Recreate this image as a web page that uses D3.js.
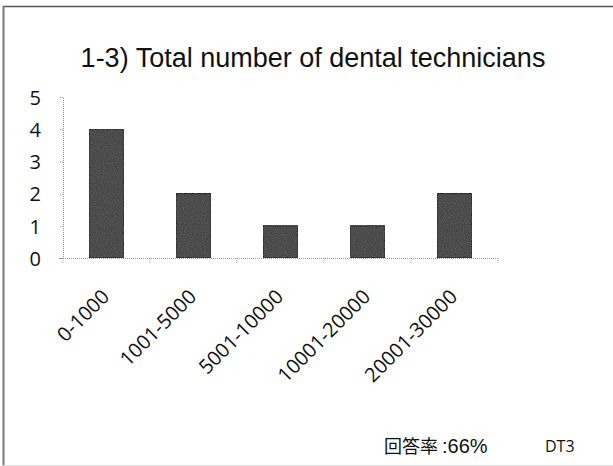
<!DOCTYPE html>
<html>
<head>
<meta charset="utf-8">
<script src="https://cdn.jsdelivr.net/npm/d3@7/dist/d3.min.js"></script>
<style>
  html, body { margin: 0; padding: 0; background: #fff; }
  svg { display: block; }
</style>
</head>
<body>
<svg id="chart" width="613" height="466"></svg>
<script>
// Survey answers: total number of dental technicians per lab
const categories = ["0-1000", "1001-5000", "5001-10000", "10001-20000", "20001-30000"];
const counts = [4, 2, 1, 1, 2];
const yTicks = [0, 1, 2, 3, 4, 5];

const svg = d3.select("#chart");
const W = 613, H = 466;

// texture filter giving the bars a speckled print look
const defs = svg.append("defs");
const f = defs.append("filter").attr("id", "grain").attr("x", 0).attr("y", 0).attr("width", 1).attr("height", 1);
f.append("feTurbulence").attr("type", "fractalNoise").attr("baseFrequency", 0.9).attr("numOctaves", 1).attr("seed", 3).attr("result", "n");
f.append("feColorMatrix").attr("in", "n").attr("type", "matrix")
  .attr("values", "0 0 0 0 0.12  0 0 0 0 0.12  0 0 0 0 0.12  0 0 0 -1.6 1.05").attr("result", "dots");
f.append("feComposite").attr("in", "dots").attr("in2", "SourceGraphic").attr("operator", "in").attr("result", "d2");
f.append("feMerge").selectAll("feMergeNode").data(["SourceGraphic", "d2"]).join("feMergeNode").attr("in", d => d);

// frame
svg.append("line").attr("x1", 3).attr("x2", W).attr("y1", 6.5).attr("y2", 6.5)
  .attr("stroke", "#555").attr("stroke-width", 1.5);
svg.append("line").attr("x1", 3.5).attr("x2", 3.5).attr("y1", 6).attr("y2", H)
  .attr("stroke", "#777").attr("stroke-width", 2);
svg.append("line").attr("x1", 3).attr("x2", W).attr("y1", 465.5).attr("y2", 465.5)
  .attr("stroke", "#ddd").attr("stroke-width", 1);

// title
svg.append("text").attr("x", 313).attr("y", 67).attr("text-anchor", "middle")
  .attr("font-family", "'Liberation Sans', Arial, sans-serif").attr("font-size", 27).attr("fill", "#111")
  .text("1-3) Total number of dental technicians");

const x = d3.scaleBand().domain(categories).range([63, 498]).paddingInner(0.6).paddingOuter(0.3);
const y = d3.scaleLinear().domain([0, 5]).range([258, 97]);

const g = svg.append("g");

// bars
g.selectAll("rect.bar").data(categories).join("rect")
  .attr("class", "bar")
  .attr("x", d => x(d))
  .attr("width", x.bandwidth())
  .attr("y", (d, i) => y(counts[i]))
  .attr("height", (d, i) => y(0) - y(counts[i]))
  .attr("fill", "#444")
  .attr("stroke", "#151515")
  .attr("stroke-width", 1.2)
  .attr("filter", "url(#grain)");

// y axis
const yAxis = d3.axisLeft(y).tickValues(yTicks).tickFormat(d3.format("d")).tickSize(4).tickPadding(18);
const yg = svg.append("g").attr("transform", "translate(63,0)").call(yAxis);
yg.select(".domain").attr("stroke", "#999").attr("stroke-dasharray", "1,1");
yg.selectAll(".tick line").attr("stroke", "#999").attr("stroke-dasharray", "1,1");
yg.selectAll(".tick text").attr("font-family", "'Open Sans', Lato, sans-serif")
  .attr("font-size", 20).attr("fill", "#111").attr("dy", "0.36em");

// x axis: line with tick marks at category boundaries
const x0 = 63, x1 = 498;
svg.append("line").attr("x1", x0).attr("x2", x1).attr("y1", y(0) + 0.5).attr("y2", y(0) + 0.5)
  .attr("stroke", "#999").attr("stroke-dasharray", "1,1");
const bounds = d3.range(categories.length + 1).map(i => x0 + (x1 - x0) * i / categories.length);
svg.selectAll("line.xt").data(bounds).join("line").attr("class", "xt")
  .attr("x1", d => d).attr("x2", d => d).attr("y1", y(0)).attr("y2", y(0) + 5)
  .attr("stroke", "#999").attr("stroke-dasharray", "1,1");

// rotated category labels
svg.selectAll("text.xl").data(categories).join("text").attr("class", "xl")
  .attr("transform", d => `translate(${x(d) + x.bandwidth() / 2 + 4},${y(0) + 40}) rotate(-45)`)
  .attr("text-anchor", "end")
  .attr("font-family", "'Open Sans', Lato, sans-serif").attr("font-size", 20).attr("fill", "#111")
  .text(d => d);

// footer notes
const note = svg.append("text").attr("x", 384).attr("y", 453).attr("fill", "#111");
note.append("tspan").attr("font-family", "'Noto Sans CJK JP', sans-serif").attr("font-size", 18).text("回答率");
note.append("tspan").attr("font-family", "'Liberation Sans', Arial, sans-serif").attr("font-size", 20).attr("dx", 4).text(":66%");
svg.append("text").attr("x", 545).attr("y", 452)
  .attr("font-family", "'Open Sans', Lato, sans-serif").attr("font-size", 16).attr("fill", "#111")
  .text("DT3");
</script>
</body>
</html>
